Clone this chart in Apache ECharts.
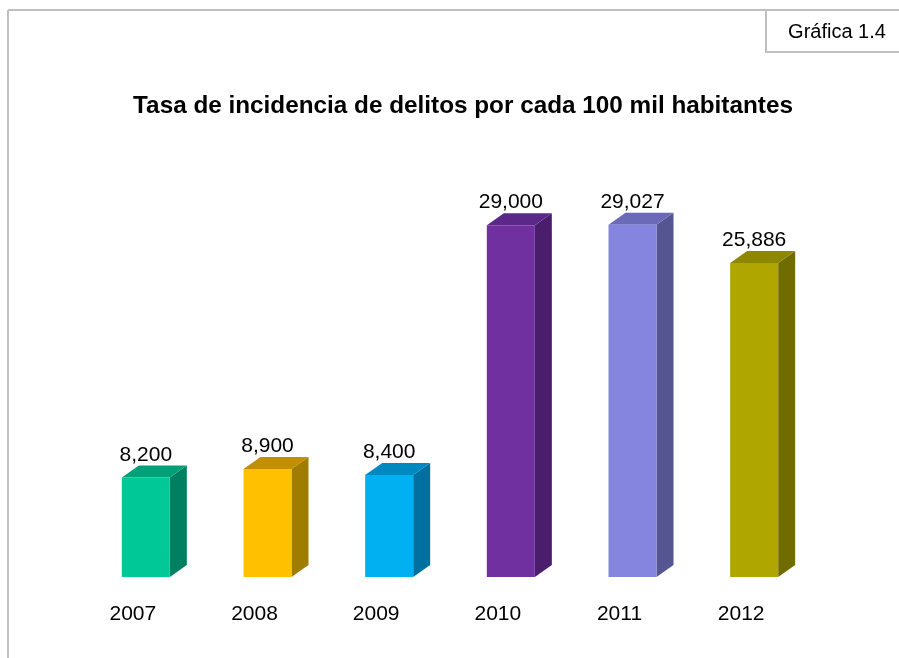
<!DOCTYPE html>
<html>
<head>
<meta charset="utf-8">
<title>Gráfica 1.4</title>
<script src="https://cdn.jsdelivr.net/npm/echarts@6/dist/echarts.min.js"></script>
<style>
  html, body { margin: 0; padding: 0; background: #fff; }
  #chart { width: 899px; height: 658px; }
</style>
</head>
<body>
<div id="chart"></div>
<script>
// datos de la gráfica
const years = ['2007', '2008', '2009', '2010', '2011', '2012']
const rates = [8200, 8900, 8400, 29000, 29027, 25886]

// colores de cada barra: cara frontal, lateral y superior
const frontColors = ['#00c896', '#ffc000', '#00b0f0', '#7030a0', '#8585e0', '#afa700']
const sideColors = ['#008060', '#a07c00', '#0070a0', '#4a1e6c', '#555592', '#706c00']
const topColors = ['#00a078', '#c09000', '#0088c0', '#5a2888', '#6a6ab8', '#8e8800']

const narrow = '"Liberation Sans Narrow", "Arial Narrow", "Liberation Sans", Arial, sans-serif'
const regular = '"Liberation Sans", Arial, sans-serif'

const chart = echarts.init(document.getElementById('chart'))

const depthX = 17
const depthY = 12
const faceW = 48

const renderBar = (params, api) => {
  const i = api.value(0)
  const top = api.coord([i, api.value(1)])
  const base = api.coord([i, 0])
  const x0 = top[0] - faceW / 2
  const x1 = top[0] + faceW / 2
  const yT = top[1]
  const yB = base[1]
  return {
    type: 'group',
    children: [
      {
        type: 'polygon',
        shape: { points: [[x1, yT], [x1 + depthX, yT - depthY], [x1 + depthX, yB - depthY], [x1, yB]] },
        style: { fill: sideColors[i] }
      },
      {
        type: 'polygon',
        shape: { points: [[x0, yT], [x0 + depthX, yT - depthY], [x1 + depthX, yT - depthY], [x1, yT]] },
        style: { fill: topColors[i] }
      },
      {
        type: 'rect',
        shape: { x: x0, y: yT, width: faceW, height: yB - yT },
        style: { fill: frontColors[i] }
      },
      {
        type: 'text',
        style: {
          text: echarts.format.addCommas(api.value(1)),
          x: top[0],
          y: yT - depthY,
          align: 'center',
          verticalAlign: 'bottom',
          fontSize: 21,
          fontFamily: regular,
          fill: '#000'
        }
      }
    ]
  }
}

chart.setOption({
  backgroundColor: '#fff',
  animation: false,
  title: {
    text: 'Tasa de incidencia de delitos por cada 100 mil habitantes',
    left: 458,
    top: 89,
    textAlign: 'center',
    textStyle: { fontSize: 24.3, fontWeight: 'bold', fontFamily: narrow, color: '#000' }
  },
  graphic: [
    { type: 'line', shape: { x1: 8, y1: 10, x2: 899, y2: 10 }, style: { stroke: '#c0c0c0', lineWidth: 2 } },
    { type: 'line', shape: { x1: 8, y1: 10, x2: 8, y2: 658 }, style: { stroke: '#c0c0c0', lineWidth: 2 } },
    { type: 'rect', shape: { x: 766, y: 10, width: 140, height: 42 }, style: { fill: '#fff', stroke: '#c0c0c0', lineWidth: 2 } },
    {
      type: 'text',
      style: {
        text: 'Gráfica 1.4', x: 837, y: 32, align: 'center', verticalAlign: 'middle',
        fontSize: 20, fontFamily: regular, fill: '#000'
      }
    }
  ],
  grid: { left: 85, right: 84, top: 213, bottom: 81 },
  xAxis: {
    type: 'category',
    data: years,
    axisLine: { show: false },
    axisTick: { show: false },
    axisLabel: {
      margin: 27,
      fontSize: 21,
      fontFamily: narrow,
      color: '#000',
      padding: [0, 26, 0, 0]
    }
  },
  yAxis: {
    type: 'value',
    min: 0,
    max: 30000,
    show: false,
    splitLine: { show: false }
  },
  series: [{
    type: 'custom',
    renderItem: renderBar,
    data: rates.map((v, i) => [i, v])
  }]
})
</script>
</body>
</html>
